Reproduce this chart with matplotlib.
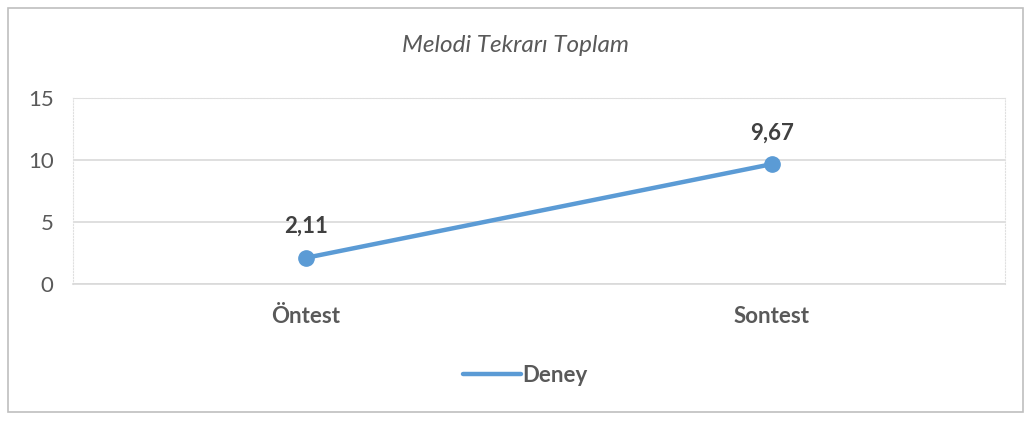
import matplotlib
matplotlib.use("Agg")
import matplotlib.pyplot as plt
from matplotlib.patches import Rectangle
from matplotlib.lines import Line2D

categories = ["Öntest", "Sontest"]
values = [2.11, 9.67]
value_labels = ["2,11", "9,67"]
series_name = "Deney"
title = "Melodi Tekrarı Toplam"
yticks = [0, 5, 10, 15]

plt.rcParams['font.family'] = ['Lato', 'DejaVu Sans']
txt = '#595959'
blue = '#5B9BD5'

fig = plt.figure(figsize=(10.32, 4.21), dpi=100)
fig.patches.append(Rectangle((8/1032, 1-412/421), 1015/1032, 404/421, transform=fig.transFigure,
                             fill=False, edgecolor='#BFBFBF', linewidth=1.2))
ax = fig.add_axes([73/1032, 1-284/421, 932/1032, 186/421])
x = list(range(len(categories)))
ax.plot(x, values, color=blue, linewidth=3.2, marker='o', markersize=11, solid_capstyle='round', zorder=3)
for xi, v, lab in zip(x, values, value_labels):
    ax.annotate(lab, (xi, v), xytext=(0, 15), textcoords='offset points', ha='center', va='bottom',
                fontsize=16, fontweight='bold', color='#404040')
ax.set_xlim(-0.5, len(categories) - 0.5)
ax.set_ylim(0, 15)
ax.set_yticks(yticks)
ax.set_yticklabels([str(t) for t in yticks])
ax.set_xticks(x)
ax.set_xticklabels(categories, fontweight='bold')
ax.tick_params(axis='both', length=0, labelsize=16, colors=txt)
ax.tick_params(axis='x', pad=16)
ax.tick_params(axis='y', pad=14)
ax.grid(axis='y', color='#D9D9D9', linewidth=1.2)
ax.set_axisbelow(True)
for s in ['left', 'top', 'right']:
    ax.spines[s].set_color('#E0E0E0')
    ax.spines[s].set_linestyle(':')
    ax.spines[s].set_linewidth(0.8)
ax.spines['bottom'].set_color('#D9D9D9')
ax.spines['bottom'].set_linewidth(1.2)

fig.text(0.5, 1-46/421, title, ha='center', va='center', fontsize=17.5, style='italic', color=txt)

handle = Line2D([], [], color=blue, linewidth=3.2, solid_capstyle='round')
fig.legend([handle], [series_name], loc='center', bbox_to_anchor=(525/1032, 1-375/421), frameon=False,
           prop={'size': 16, 'weight': 'bold'}, labelcolor=txt, handlelength=2.6, handletextpad=0.05)

fig.savefig('out.png', dpi=100)
